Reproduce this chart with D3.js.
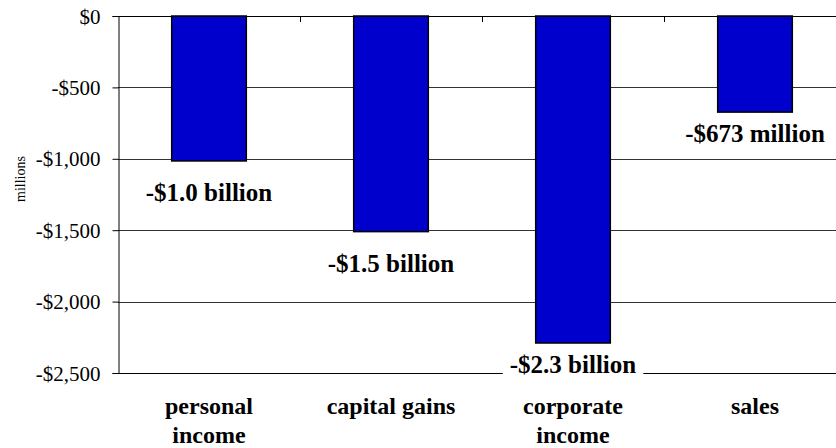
<!DOCTYPE html>
<html>
<head>
<meta charset="utf-8">
<script src="https://cdn.jsdelivr.net/npm/d3@7"></script>
<style>
  html, body { margin: 0; padding: 0; background: #fff; }
  svg { display: block; }
  svg text { font-family: "Liberation Serif", "Times New Roman", serif; fill: #000; }
</style>
</head>
<body>
<svg id="chart" width="836" height="448"></svg>
<script>
// Revenue change by tax type, in millions of dollars
const categories = [["personal", "income"], ["capital gains"], ["corporate", "income"], ["sales"]];
const values = [-1015, -1510, -2290, -673];
const valueLabels = ["-$1.0 billion", "-$1.5 billion", "-$2.3 billion", "-$673 million"];
const yTicks = [0, -500, -1000, -1500, -2000, -2500];

// layout
const SERIF = '"Liberation Serif", "Times New Roman", serif';
const margin = { top: 16, left: 118 };
const plotW = 728, plotH = 357;
const labelBaseline = [40, 40, 30, 30]; // distance from bar end to label baseline

const svg = d3.select("#chart");
const g = svg.append("g").attr("transform", `translate(${margin.left},${margin.top})`);

const keys = categories.map(c => c.join(" "));
const x = d3.scaleBand().domain(keys).range([0, plotW]).paddingInner(0.59).paddingOuter(0.295);
const y = d3.scaleLinear().domain([0, -2500]).range([0, plotH]);
const px = v => Math.round(v) + 0.5;

// horizontal gridlines
g.selectAll("line.grid").data(yTicks.slice(1, -1)).join("line")
  .attr("class", "grid")
  .attr("x1", 0).attr("x2", plotW)
  .attr("y1", d => px(y(d))).attr("y2", d => px(y(d)))
  .attr("stroke", "#333").attr("stroke-width", 1);

// bottom frame line
g.append("line").attr("x1", 0).attr("x2", plotW)
  .attr("y1", px(plotH)).attr("y2", px(plotH))
  .attr("stroke", "#000");

// bars
g.selectAll("rect.bar").data(values).join("rect")
  .attr("class", "bar")
  .attr("x", (d, i) => x(keys[i]))
  .attr("width", x.bandwidth())
  .attr("y", y(0))
  .attr("height", d => y(d) - y(0))
  .attr("fill", "#0000cc")
  .attr("stroke", "#000").attr("stroke-width", 1.5);

// value axis
const yAxis = d3.axisLeft(y).tickValues(yTicks).tickSize(6).tickPadding(12)
  .tickFormat(d => (d < 0 ? "-$" : "$") + d3.format(",")(Math.abs(d)));
const ya = g.append("g").attr("transform", "translate(0.5,0)").call(yAxis);
ya.attr("font-family", null).attr("font-size", null);
ya.select(".domain").attr("stroke", "#000");
ya.selectAll(".tick line").attr("stroke", "#000");
ya.selectAll("text").style("font-family", SERIF).style("font-size", "21px").attr("dy", "0.34em");

// category axis along the zero line, ticks between bands
const step = x.step();
g.append("line").attr("x1", 0).attr("x2", plotW).attr("y1", 0.5).attr("y2", 0.5).attr("stroke", "#000");
g.selectAll("line.ctick").data(d3.range(1, keys.length)).join("line")
  .attr("class", "ctick")
  .attr("x1", i => px(i * step)).attr("x2", i => px(i * step))
  .attr("y1", 0).attr("y2", 6).attr("stroke", "#000");

// value labels with white backing
const lab = g.selectAll("g.vlab").data(values).join("g").attr("class", "vlab")
  .attr("transform", (d, i) => `translate(${x(keys[i]) + x.bandwidth() / 2},${y(d) + labelBaseline[i]})`);
lab.append("text")
  .attr("text-anchor", "middle")
  .style("font-family", SERIF).style("font-size", "25px").style("font-weight", "bold")
  .text((d, i) => valueLabels[i]);
lab.each(function () {
  const t = d3.select(this).select("text");
  const b = t.node().getBBox();
  d3.select(this).insert("rect", "text")
    .attr("x", b.x - 7).attr("y", b.y).attr("width", b.width + 14).attr("height", b.height)
    .attr("fill", "#fff");
});

// category labels
const cl = g.selectAll("text.cat").data(categories).join("text")
  .attr("class", "cat")
  .attr("text-anchor", "middle")
  .style("font-family", SERIF).style("font-size", "24px").style("font-weight", "bold")
  .attr("transform", (d, i) => `translate(${x(keys[i]) + x.bandwidth() / 2},${plotH + 41})`);
cl.selectAll("tspan").data(d => d).join("tspan")
  .attr("x", 0).attr("dy", (d, i) => i === 0 ? 0 : 29)
  .text(d => d);

// axis title
svg.append("text")
  .attr("transform", `translate(25,179) rotate(-90)`)
  .attr("text-anchor", "middle")
  .style("font-family", SERIF).style("font-size", "14px")
  .text("millions");
</script>
</body>
</html>
